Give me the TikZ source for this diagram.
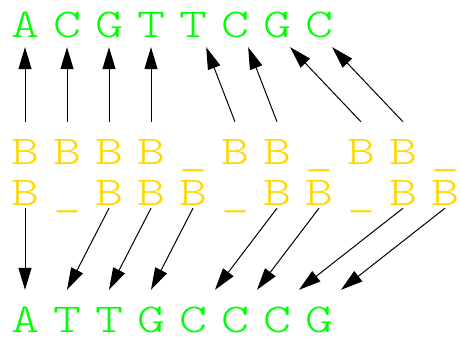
\documentclass[tikz,border=0pt]{standalone}
\usepackage{fontspec}
\usepackage{graphicx}
\usetikzlibrary{arrows.meta}
\newfontfamily\seqfont{lmmonolt10-regular.otf}
\definecolor{nucgreen}{HTML}{00FF00}
\definecolor{blkgold}{HTML}{FFD700}
\newcommand{\wideletter}[1]{\scalebox{1.3}[1]{#1}}
\tikzset{
  letter/.style={font=\fontsize{41}{41}\selectfont\seqfont, inner sep=0pt, minimum width=21pt, anchor=base},
  nuc/.style={letter, text=nucgreen},
  blk/.style={letter, text=blkgold},
  arr/.style={-{Triangle[length=22pt,width=13pt]}, line width=1pt}
}

\begin{document}
\begin{tikzpicture}[x=1pt, y=-1pt]
  \useasboundingbox (0,0) rectangle (460,338);
  % sequences (top and bottom) and the two block rows
  \foreach \l [count=\i from 0] in {A,C,G,T,T,C,G,C}
    \node[nuc, text height=27pt, text depth=10pt] (t\i) at (25+42*\i, 37) {\wideletter{\l}};
  \foreach \l [count=\i from 0] in {B,B,B,B,\_,B,B,\_,B,B,\_}
    \node[blk, text height=42pt] (a\i) at (25+42*\i, 164) {\wideletter{\l}};
  \foreach \l [count=\i from 0] in {B,\_,B,B,B,\_,B,B,\_,B,B}
    \node[blk, text depth=3pt] (b\i) at (25+42*\i, 205) {\wideletter{\l}};
  \foreach \l [count=\i from 0] in {A,T,T,G,C,C,C,G}
    \node[nuc, text height=42pt] (c\i) at (25+42*\i, 332) {\wideletter{\l}};
  % upper row -> top sequence
  \foreach \s/\d in {0/0,1/1,2/2,3/3}
    \draw[arr] (a\s.north) -- (t\d.south);
  \foreach \s/\d in {5/4,6/5,8/6,9/7}
    \draw[arr] (a\s.north) -- ([xshift=-1pt]t\d.south east);
  % lower row -> bottom sequence
  \foreach \s/\d in {0/0,2/1,3/2,4/3}
    \draw[arr] (b\s.south) -- (c\d.north);
  \foreach \s/\d in {6/4,7/5,9/6,10/7}
    \draw[arr] (b\s.south) -- ([xshift=22pt]c\d.north);
\end{tikzpicture}
\end{document}
